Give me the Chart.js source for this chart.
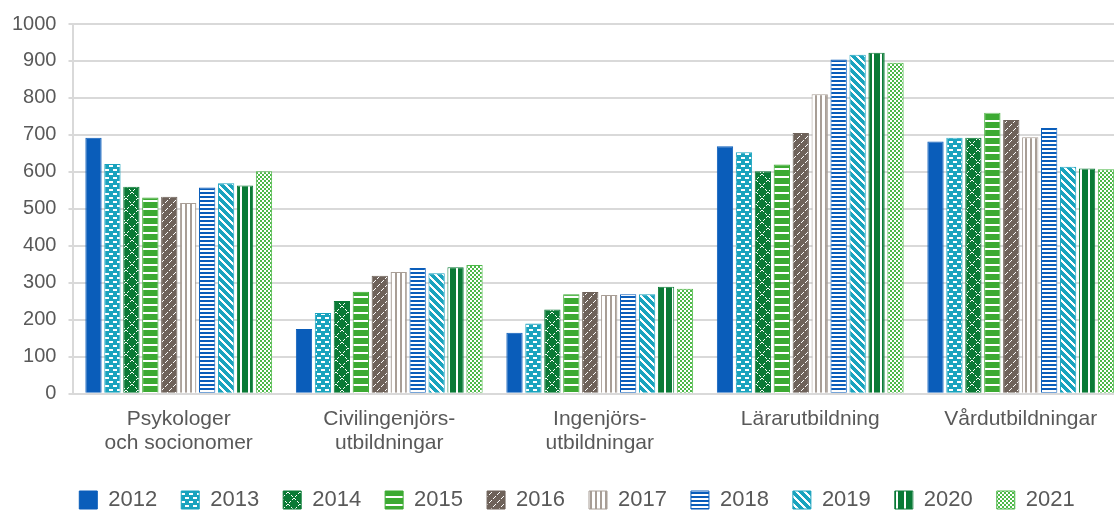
<!DOCTYPE html>
<html>
<head>
<meta charset="utf-8">
<script src="https://cdn.jsdelivr.net/npm/chart.js@4/dist/chart.umd.min.js"></script>
<style>
  html, body { margin: 0; padding: 0; background: #fff; overflow: hidden; }
  #wrap { width: 1126px; height: 521px; position: relative; }
</style>
</head>
<body>
<div id="wrap"><canvas id="chart"></canvas></div>
<script>
// Categories (x axis) and years (legend)
const categories = [
  ['Psykologer', 'och socionomer'],
  ['Civilingenjörs-', 'utbildningar'],
  ['Ingenjörs-', 'utbildningar'],
  'Lärarutbildning',
  'Vårdutbildningar'
];
const years = ['2012', '2013', '2014', '2015', '2016', '2017', '2018', '2019', '2020', '2021'];

// Values per year, one per category
const v2012 = [692, 175, 165, 669, 682];
const v2013 = [621, 218, 190, 653, 692];
const v2014 = [560, 251, 228, 602, 692];
const v2015 = [531, 276, 269, 620, 760];
const v2016 = [533, 319, 275, 705, 740];
const v2017 = [516, 329, 267, 810, 694];
const v2018 = [558, 340, 269, 904, 719];
const v2019 = [569, 326, 269, 917, 614];
const v2020 = [563, 342, 289, 922, 609];
const v2021 = [602, 348, 284, 895, 607];
const values = [v2012, v2013, v2014, v2015, v2016, v2017, v2018, v2019, v2020, v2021];

// Y axis ticks
const yMin = 0;
const yMax = 1000;
const yStep = 100;

const BLUE = '#0A5DBA';
const TEAL = '#19A3BE';
const DKGREEN = '#0A7A36';
const GREEN = '#3CAA32';
const BROWN = '#6E625A';
const GREY = '#A89E96';
const LTGREEN = '#4DB848';
const TEXT = '#595959';
const GRID = '#D9D9D9';

// Small helper to build a canvas pattern
function makePattern(w, h, draw) {
  const c = document.createElement('canvas');
  c.width = w;
  c.height = h;
  const g = c.getContext('2d');
  draw(g, w, h);
  return g.createPattern(c, 'repeat');
}

const fills = [
  BLUE,
  // 2013: brick dashes
  makePattern(8, 8, (g, w, h) => {
    g.fillStyle = TEAL; g.fillRect(0, 0, w, h);
    g.fillStyle = '#fff';
    g.fillRect(1, 1, 4, 2);
    g.fillRect(5, 5, 3, 2); g.fillRect(0, 5, 1, 2);
  }),
  // 2014: diamond lattice
  makePattern(12, 12, (g, w, h) => {
    g.fillStyle = DKGREEN; g.fillRect(0, 0, w, h);
    g.fillStyle = '#fff';
    for (let i = 0; i < 12; i++) {
      if (i % 3 === 2) continue;
      g.fillRect(i, i, 1, 1);
      g.fillRect(11 - i, i, 1, 1);
    }
  }),
  // 2015: horizontal white lines
  makePattern(8, 8, (g, w, h) => {
    g.fillStyle = GREEN; g.fillRect(0, 0, w, h);
    g.fillStyle = '#fff'; g.fillRect(0, 0, w, 2);
  }),
  // 2016: dashed diagonals
  makePattern(8, 8, (g, w, h) => {
    g.fillStyle = BROWN; g.fillRect(0, 0, w, h);
    g.fillStyle = '#fff';
    const pts = [[7, 0], [6, 1], [5, 2], [3, 4], [2, 5], [1, 6]];
    pts.forEach(p => g.fillRect(p[0], p[1], 1, 1));
  }),
  // 2017: vertical grey lines on white
  makePattern(5, 5, (g, w, h) => {
    g.fillStyle = '#fff'; g.fillRect(0, 0, w, h);
    g.fillStyle = GREY; g.fillRect(0, 0, 2, h);
  }),
  // 2018: horizontal blue lines on white
  makePattern(4, 4, (g, w, h) => {
    g.fillStyle = '#fff'; g.fillRect(0, 0, w, h);
    g.fillStyle = BLUE; g.fillRect(0, 0, w, 2);
  }),
  // 2019: wide downward diagonals
  makePattern(8, 8, (g, w, h) => {
    g.fillStyle = TEAL; g.fillRect(0, 0, w, h);
    g.fillStyle = '#fff';
    for (let y = 0; y < h; y++) {
      for (let x = 0; x < w; x++) {
        if (((x - y) % 8 + 8) % 8 < 3) g.fillRect(x, y, 1, 1);
      }
    }
  }),
  // 2020: wide vertical stripes
  makePattern(8, 8, (g, w, h) => {
    g.fillStyle = DKGREEN; g.fillRect(0, 0, w, h);
    g.fillStyle = '#fff'; g.fillRect(0, 0, 2, h);
  }),
  // 2021: small checks
  makePattern(4, 4, (g, w, h) => {
    g.fillStyle = '#fff'; g.fillRect(0, 0, w, h);
    g.fillStyle = LTGREEN;
    g.fillRect(0, 0, 2, 2); g.fillRect(2, 2, 2, 2);
  })
];
const borders = [BLUE, TEAL, DKGREEN, GREEN, BROWN, GREY, BLUE, TEAL, DKGREEN, LTGREEN];

const datasets = years.map((y, i) => ({
  label: y,
  data: values[i],
  backgroundColor: fills[i],
  borderColor: borders[i],
  borderWidth: 1,
  categoryPercentage: 0.9,
  barPercentage: 0.86
}));

// nudge the legend a little to the right, like the original
const legendShift = {
  id: 'legendShift',
  afterLayout(chart) {
    chart.legend.left += 14;
    chart.legend.right += 14;
  }
};

Chart.defaults.font.family = '"Liberation Sans", Arial, sans-serif';
Chart.defaults.color = TEXT;

const ctx = document.getElementById('chart').getContext('2d');
const chart = new Chart(ctx, {
  type: 'bar',
  data: { labels: categories, datasets: datasets },
  plugins: [legendShift],
  options: {
    responsive: true,
    maintainAspectRatio: false,
    animation: false,
    layout: { padding: { left: 0, right: 0, top: 12, bottom: 0 } },
    plugins: {
      tooltip: { enabled: false },
      legend: {
        position: 'bottom',
        labels: {
          boxWidth: 18,
          boxHeight: 18,
          padding: 24,
          font: { size: 22 },
          color: TEXT
        }
      }
    },
    scales: {
      x: {
        grid: { display: false, drawTicks: false },
        border: { color: GRID, width: 2 },
        afterFit: scale => { scale.height -= 3; },
        ticks: { font: { size: 21, lineHeight: 1.15 }, color: TEXT, padding: 13, maxRotation: 0 }
      },
      y: {
        min: yMin,
        max: yMax,
        grid: { color: GRID, lineWidth: 2, tickLength: 5 },
        border: { color: GRID, width: 2 },
        ticks: {
          stepSize: yStep,
          font: { size: 20 },
          color: TEXT,
          padding: 12,
          callback: v => String(v)
        }
      }
    }
  }
});
</script>
</body>
</html>
